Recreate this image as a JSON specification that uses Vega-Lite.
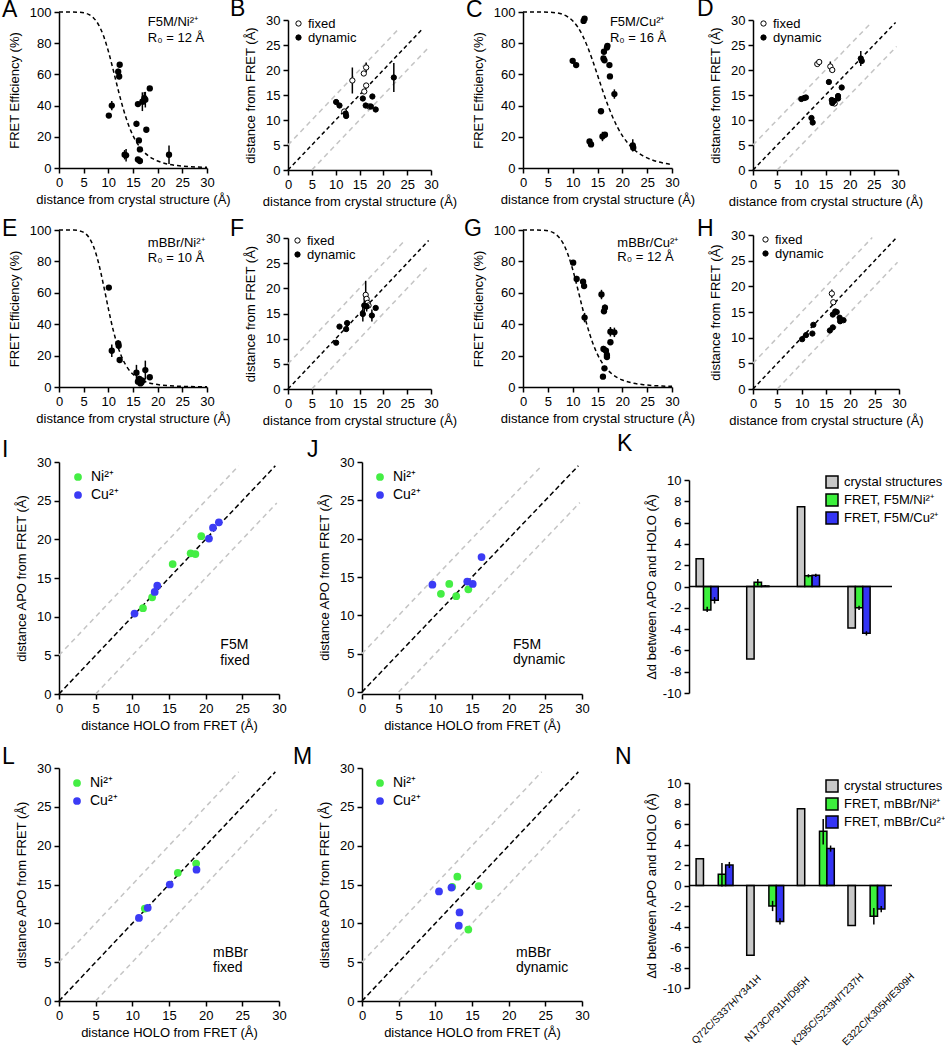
{
"$schema": "https://vega.github.io/schema/vega-lite/v6.json",
"background": "white",
"padding": {"left": 2, "top": -2, "right": 0, "bottom": 0},
"config": {
 "font": "Liberation Sans",
 "view": {"stroke": null},
 "locale": {"number": {"decimal": ".", "thousands": ",", "grouping": [3], "currency": ["$", ""], "minus": "-"}},
 "axis": {"grid": false, "domainColor": "black", "domainWidth": 1.5, "tickColor": "black", "tickWidth": 1.5, "tickSize": 5, "labelFontSize": 13, "labelColor": "black", "labelFont": "Liberation Sans", "titleFont": "Liberation Sans", "titleFontSize": 13, "titleFontWeight": "normal", "titleColor": "black", "labelPadding": 3, "titlePadding": 4, "labelFlush": false, "labelOverlap": false},
 "axisY": {"titlePadding": 8},
 "legend": {"labelFont": "Liberation Sans", "labelColor": "black"}
},
"datasets": {
 "curve12": [{"cx":0,"cy":100},{"cx":2,"cy":100},{"cx":4,"cy":99.86},{"cx":5,"cy":99.48},{"cx":6,"cy":98.46},{"cx":7,"cy":96.21},{"cx":8,"cy":91.93},{"cx":9,"cy":84.89},{"cx":10,"cy":74.92},{"cx":11,"cy":62.76},{"cx":12,"cy":50},{"cx":13,"cy":38.22},{"cx":14,"cy":28.4},{"cx":15,"cy":20.77},{"cx":16,"cy":15.11},{"cx":17,"cy":11.01},{"cx":18,"cy":8.07},{"cx":19,"cy":5.97},{"cx":20,"cy":4.46},{"cx":22,"cy":2.57},{"cx":24,"cy":1.54},{"cx":26,"cy":0.96},{"cx":28,"cy":0.62},{"cx":30,"cy":0.41}],
 "curve16": [{"cx":0,"cy":100},{"cx":4,"cy":99.98},{"cx":6,"cy":99.72},{"cx":8,"cy":98.46},{"cx":9,"cy":96.93},{"cx":10,"cy":94.38},{"cx":11,"cy":90.45},{"cx":12,"cy":84.89},{"cx":13,"cy":77.66},{"cx":14,"cy":69.02},{"cx":15,"cy":59.56},{"cx":16,"cy":50},{"cx":17,"cy":41},{"cx":18,"cy":33.03},{"cx":19,"cy":26.29},{"cx":20,"cy":20.77},{"cx":21,"cy":16.36},{"cx":22,"cy":12.89},{"cx":23,"cy":10.18},{"cx":24,"cy":8.07},{"cx":26,"cy":5.15},{"cx":28,"cy":3.36},{"cx":30,"cy":2.25}],
 "curve10": [{"cx":0,"cy":100},{"cx":3,"cy":99.93},{"cx":4,"cy":99.59},{"cx":5,"cy":98.46},{"cx":6,"cy":95.54},{"cx":7,"cy":89.47},{"cx":8,"cy":79.23},{"cx":9,"cy":65.3},{"cx":10,"cy":50},{"cx":11,"cy":36.08},{"cx":12,"cy":25.09},{"cx":13,"cy":17.16},{"cx":14,"cy":11.72},{"cx":15,"cy":8.07},{"cx":16,"cy":5.63},{"cx":17,"cy":3.98},{"cx":18,"cy":2.86},{"cx":20,"cy":1.54},{"cx":22,"cy":0.87},{"cx":25,"cy":0.41},{"cx":30,"cy":0.14}],
 "effA": [{"cx":10.1,"cy":33.6,"err":1},{"cx":10.7,"cy":40,"err":3},{"cx":12.0,"cy":61.7,"err":2},{"cx":12.2,"cy":58.7,"err":2},{"cx":12.3,"cy":66.2,"err":1.5},{"cx":13.3,"cy":8.5,"err":3},{"cx":13.6,"cy":8.1,"err":4},{"cx":15.7,"cy":28.3,"err":2},{"cx":16.0,"cy":41,"err":1.5},{"cx":16.2,"cy":17.7,"err":1.5},{"cx":16.4,"cy":11.9,"err":1.5},{"cx":16.0,"cy":5.5,"err":1},{"cx":16.4,"cy":4.5,"err":1},{"cx":16.9,"cy":42.5,"err":6},{"cx":17.3,"cy":44.7,"err":4},{"cx":17.5,"cy":43.8,"err":5},{"cx":17.7,"cy":24.5,"err":1},{"cx":18.4,"cy":51,"err":1},{"cx":22.3,"cy":8.5,"err":6}],
 "effC": [{"cx":10.0,"cy":68.7,"err":1},{"cx":10.7,"cy":66,"err":1},{"cx":12.2,"cy":94.3,"err":1.5},{"cx":12.4,"cy":95.7,"err":1},{"cx":13.4,"cy":17,"err":1.5},{"cx":13.7,"cy":15.1,"err":1.5},{"cx":15.7,"cy":36.4,"err":1},{"cx":16.0,"cy":20.2,"err":3},{"cx":16.5,"cy":21.3,"err":1.5},{"cx":16.2,"cy":70.2,"err":1},{"cx":16.4,"cy":69,"err":1},{"cx":16.3,"cy":74.5,"err":1.5},{"cx":16.9,"cy":77.2,"err":1.5},{"cx":17.0,"cy":78.3,"err":1},{"cx":17.4,"cy":66,"err":1},{"cx":17.5,"cy":58.7,"err":1},{"cx":18.4,"cy":47.4,"err":3},{"cx":22.1,"cy":14.5,"err":4},{"cx":22.2,"cy":13,"err":2}],
 "effE": [{"cx":10.1,"cy":63.3,"err":1},{"cx":10.7,"cy":23.1,"err":4},{"cx":12.0,"cy":27.8,"err":2},{"cx":12.1,"cy":26.3,"err":2},{"cx":12.3,"cy":17.2,"err":1},{"cx":15.7,"cy":9.1,"err":5},{"cx":16.0,"cy":3.4,"err":1},{"cx":16.3,"cy":5.1,"err":2},{"cx":16.5,"cy":2.3,"err":1},{"cx":16.9,"cy":4.0,"err":2},{"cx":16.7,"cy":2.9,"err":1},{"cx":17.5,"cy":10.8,"err":6},{"cx":18.4,"cy":6.2,"err":1}],
 "effG": [{"cx":10.1,"cy":79.2,"err":1},{"cx":10.8,"cy":68.8,"err":2},{"cx":12.1,"cy":67.1,"err":1},{"cx":12.3,"cy":64.3,"err":1},{"cx":12.4,"cy":44.2,"err":3},{"cx":15.8,"cy":58.9,"err":3},{"cx":16.3,"cy":48.2,"err":1},{"cx":16.5,"cy":50.5,"err":2},{"cx":16.1,"cy":6.6,"err":1},{"cx":16.4,"cy":11.9,"err":1},{"cx":16.2,"cy":24.2,"err":2},{"cx":16.7,"cy":23.1,"err":2},{"cx":16.9,"cy":20.4,"err":2},{"cx":16.9,"cy":19.1,"err":1},{"cx":17.6,"cy":28.5,"err":1},{"cx":17.6,"cy":35.2,"err":3},{"cx":18.4,"cy":34.8,"err":3}],
 "distB": [{"cx":13.5,"cy":17.9,"err":2.6,"type":"fixed"},{"cx":15.9,"cy":19.3,"err":0.5,"type":"fixed"},{"cx":16.4,"cy":20.5,"err":1,"type":"fixed"},{"cx":16.0,"cy":15.7,"err":0.4,"type":"fixed"},{"cx":16.4,"cy":16.9,"err":0.4,"type":"fixed"},{"cx":17.0,"cy":12.7,"err":0.3,"type":"fixed"},{"cx":11.8,"cy":11.7,"err":0.3,"type":"fixed"},{"cx":10.1,"cy":13.6,"err":0.2,"type":"dynamic"},{"cx":10.8,"cy":12.9,"err":0.2,"type":"dynamic"},{"cx":12.1,"cy":11.3,"err":0.3,"type":"dynamic"},{"cx":12.2,"cy":10.8,"err":0.3,"type":"dynamic"},{"cx":15.7,"cy":14.3,"err":0.2,"type":"dynamic"},{"cx":16.3,"cy":12.9,"err":0.2,"type":"dynamic"},{"cx":17.7,"cy":14.7,"err":0.2,"type":"dynamic"},{"cx":17.4,"cy":12.7,"err":0.2,"type":"dynamic"},{"cx":18.4,"cy":12.1,"err":0.2,"type":"dynamic"},{"cx":22.2,"cy":18.5,"err":2.9,"type":"dynamic"}],
 "distD": [{"cx":13.3,"cy":21.2,"err":0.4,"type":"fixed"},{"cx":13.7,"cy":21.6,"err":0.4,"type":"fixed"},{"cx":16.0,"cy":20.7,"err":1,"type":"fixed"},{"cx":16.4,"cy":20.0,"err":0.4,"type":"fixed"},{"cx":16.9,"cy":13.3,"err":0.3,"type":"fixed"},{"cx":10.0,"cy":14.2,"err":0.2,"type":"dynamic"},{"cx":10.6,"cy":14.4,"err":0.2,"type":"dynamic"},{"cx":10.95,"cy":14.5,"err":0.2,"type":"dynamic"},{"cx":12.1,"cy":10.4,"err":0.3,"type":"dynamic"},{"cx":12.35,"cy":9.5,"err":0.3,"type":"dynamic"},{"cx":15.7,"cy":17.6,"err":0.2,"type":"dynamic"},{"cx":16.3,"cy":14.0,"err":0.3,"type":"dynamic"},{"cx":16.4,"cy":13.4,"err":0.3,"type":"dynamic"},{"cx":16.75,"cy":13.8,"err":0.3,"type":"dynamic"},{"cx":17.6,"cy":14.8,"err":0.4,"type":"dynamic"},{"cx":17.6,"cy":14.3,"err":0.3,"type":"dynamic"},{"cx":18.35,"cy":16.5,"err":0.3,"type":"dynamic"},{"cx":22.3,"cy":22.3,"err":1.5,"type":"dynamic"},{"cx":22.5,"cy":21.8,"err":0.5,"type":"dynamic"}],
 "distF": [{"cx":16.3,"cy":18.7,"err":2.8,"type":"fixed"},{"cx":16.5,"cy":17.9,"err":0.5,"type":"fixed"},{"cx":16.7,"cy":17.1,"err":0.5,"type":"fixed"},{"cx":16.9,"cy":16.6,"err":0.5,"type":"fixed"},{"cx":10.1,"cy":9.2,"err":0.2,"type":"dynamic"},{"cx":10.8,"cy":12.4,"err":0.3,"type":"dynamic"},{"cx":12.2,"cy":11.9,"err":0.3,"type":"dynamic"},{"cx":12.4,"cy":13.1,"err":0.3,"type":"dynamic"},{"cx":15.7,"cy":14.9,"err":1.5,"type":"dynamic"},{"cx":16.0,"cy":16.6,"err":1.8,"type":"dynamic"},{"cx":16.5,"cy":16.4,"err":1,"type":"dynamic"},{"cx":17.6,"cy":14.6,"err":1.2,"type":"dynamic"},{"cx":18.4,"cy":16.1,"err":0.3,"type":"dynamic"}],
 "distH": [{"cx":16.2,"cy":18.6,"err":0.8,"type":"fixed"},{"cx":16.5,"cy":16.9,"err":0.3,"type":"fixed"},{"cx":10.1,"cy":9.7,"err":0.2,"type":"dynamic"},{"cx":10.9,"cy":10.5,"err":0.2,"type":"dynamic"},{"cx":12.2,"cy":10.8,"err":0.3,"type":"dynamic"},{"cx":12.4,"cy":12.5,"err":0.3,"type":"dynamic"},{"cx":15.8,"cy":11.4,"err":0.3,"type":"dynamic"},{"cx":16.4,"cy":12.0,"err":0.3,"type":"dynamic"},{"cx":16.4,"cy":14.5,"err":0.3,"type":"dynamic"},{"cx":16.9,"cy":15.1,"err":0.3,"type":"dynamic"},{"cx":17.2,"cy":15.0,"err":0.3,"type":"dynamic"},{"cx":17.8,"cy":13.9,"err":0.3,"type":"dynamic"},{"cx":17.9,"cy":13.2,"err":0.3,"type":"dynamic"},{"cx":18.6,"cy":13.4,"err":0.3,"type":"dynamic"}],
 "diagB": [{"cx":0,"cy":0},{"cx":28.3,"cy":28.3}],
 "greyB": [{"g":"u","cx":0,"cy":5},{"g":"u","cx":23.4,"cy":28.4},{"g":"l","cx":5,"cy":0},{"g":"l","cx":29.2,"cy":24.2}],
 "diag30": [{"cx":0,"cy":0},{"cx":29.5,"cy":29.5}],
 "grey30": [{"g":"u","cx":0,"cy":5},{"g":"u","cx":24.5,"cy":29.5},{"g":"l","cx":5,"cy":0},{"g":"l","cx":29.7,"cy":24.7}],
 "ptsI": [{"cx":11.45,"cy":11.1,"ion":"Ni²⁺"},{"cx":12.7,"cy":12.5,"ion":"Ni²⁺"},{"cx":15.5,"cy":16.8,"ion":"Ni²⁺"},{"cx":17.95,"cy":18.2,"ion":"Ni²⁺"},{"cx":18.6,"cy":18.1,"ion":"Ni²⁺"},{"cx":19.4,"cy":20.4,"ion":"Ni²⁺"},{"cx":10.3,"cy":10.4,"ion":"Cu²⁺"},{"cx":13.05,"cy":13.2,"ion":"Cu²⁺"},{"cx":13.4,"cy":14.0,"ion":"Cu²⁺"},{"cx":20.45,"cy":20.1,"ion":"Cu²⁺"},{"cx":21.0,"cy":21.5,"ion":"Cu²⁺"},{"cx":21.8,"cy":22.2,"ion":"Cu²⁺"}],
 "ptsJ": [{"cx":10.76,"cy":12.8,"ion":"Ni²⁺"},{"cx":11.9,"cy":14.1,"ion":"Ni²⁺"},{"cx":12.85,"cy":12.5,"ion":"Ni²⁺"},{"cx":14.5,"cy":13.4,"ion":"Ni²⁺"},{"cx":9.6,"cy":14.0,"ion":"Cu²⁺"},{"cx":14.35,"cy":14.4,"ion":"Cu²⁺"},{"cx":15.1,"cy":14.1,"ion":"Cu²⁺"},{"cx":16.3,"cy":17.6,"ion":"Cu²⁺"}],
 "ptsL": [{"cx":11.7,"cy":11.9,"ion":"Ni²⁺"},{"cx":16.2,"cy":16.5,"ion":"Ni²⁺"},{"cx":18.7,"cy":17.7,"ion":"Ni²⁺"},{"cx":10.9,"cy":10.7,"ion":"Cu²⁺"},{"cx":12.1,"cy":12.0,"ion":"Cu²⁺"},{"cx":15.1,"cy":15.0,"ion":"Cu²⁺"},{"cx":18.75,"cy":16.9,"ion":"Cu²⁺"}],
 "ptsM": [{"cx":12.3,"cy":14.7,"ion":"Ni²⁺"},{"cx":13.0,"cy":16.0,"ion":"Ni²⁺"},{"cx":14.5,"cy":9.2,"ion":"Ni²⁺"},{"cx":15.9,"cy":14.8,"ion":"Ni²⁺"},{"cx":10.5,"cy":14.1,"ion":"Cu²⁺"},{"cx":12.2,"cy":14.6,"ion":"Cu²⁺"},{"cx":13.3,"cy":11.4,"ion":"Cu²⁺"},{"cx":13.2,"cy":9.7,"ion":"Cu²⁺"}],
 "barK": [{"site":"Q72C/S337H/Y341H","s":"crystal structures","v":2.6},{"site":"Q72C/S337H/Y341H","s":"FRET, F5M/Ni²⁺","v":-2.2,"lo":-2.4,"hi":-1.9},{"site":"Q72C/S337H/Y341H","s":"FRET, F5M/Cu²⁺","v":-1.3,"lo":-1.6,"hi":-1.0},{"site":"N173C/P91H/D95H","s":"crystal structures","v":-6.8},{"site":"N173C/P91H/D95H","s":"FRET, F5M/Ni²⁺","v":0.4,"lo":0.1,"hi":0.7},{"site":"N173C/P91H/D95H","s":"FRET, F5M/Cu²⁺","v":0.05,"lo":-0.05,"hi":0.15},{"site":"K295C/S233H/T237H","s":"crystal structures","v":7.5},{"site":"K295C/S233H/T237H","s":"FRET, F5M/Ni²⁺","v":1.0,"lo":0.85,"hi":1.15},{"site":"K295C/S233H/T237H","s":"FRET, F5M/Cu²⁺","v":1.05,"lo":0.9,"hi":1.2},{"site":"E322C/K305H/E309H","s":"crystal structures","v":-3.9},{"site":"E322C/K305H/E309H","s":"FRET, F5M/Ni²⁺","v":-2.0,"lo":-2.2,"hi":-1.8},{"site":"E322C/K305H/E309H","s":"FRET, F5M/Cu²⁺","v":-4.4,"lo":-4.6,"hi":-4.2}],
 "barN": [{"site":"Q72C/S337H/Y341H","s":"crystal structures","v":2.6},{"site":"Q72C/S337H/Y341H","s":"FRET, mBBr/Ni²⁺","v":1.1,"lo":-0.1,"hi":2.2},{"site":"Q72C/S337H/Y341H","s":"FRET, mBBr/Cu²⁺","v":2.0,"lo":1.7,"hi":2.3},{"site":"N173C/P91H/D95H","s":"crystal structures","v":-6.8},{"site":"N173C/P91H/D95H","s":"FRET, mBBr/Ni²⁺","v":-2.0,"lo":-2.5,"hi":-1.5},{"site":"N173C/P91H/D95H","s":"FRET, mBBr/Cu²⁺","v":-3.5,"lo":-3.8,"hi":-3.2},{"site":"K295C/S233H/T237H","s":"crystal structures","v":7.5},{"site":"K295C/S233H/T237H","s":"FRET, mBBr/Ni²⁺","v":5.3,"lo":4.0,"hi":6.5},{"site":"K295C/S233H/T237H","s":"FRET, mBBr/Cu²⁺","v":3.6,"lo":3.3,"hi":3.9},{"site":"E322C/K305H/E309H","s":"crystal structures","v":-3.9},{"site":"E322C/K305H/E309H","s":"FRET, mBBr/Ni²⁺","v":-3.0,"lo":-3.8,"hi":-2.2},{"site":"E322C/K305H/E309H","s":"FRET, mBBr/Cu²⁺","v":-2.3,"lo":-2.6,"hi":-2.0}]
},
"spacing": 6,
"resolve": {"scale": {"color": "independent", "fill": "independent"}, "legend": {"color": "independent", "fill": "independent"}},
"vconcat": [
{
 "spacing": 10,
 "resolve": {"scale": {"color": "independent", "fill": "independent"}, "legend": {"color": "independent", "fill": "independent"}},
 "vconcat": [
 {
  "bounds": "flush", "spacing": 0,
  "resolve": {"scale": {"color": "independent", "fill": "independent"}, "legend": {"color": "independent", "fill": "independent"}},
  "hconcat": [
   {
    "width": 229, "height": 156,
    "layer": [
     {"encoding": {"x": {"field": "cx", "type": "quantitative", "scale": {"domain": [0, 30], "nice": false, "range": [0, 148]}, "axis": {"values": [0,5,10,15,20,25,30], "title": "distance from crystal structure (Å)", "labelOverlap": false}}, "y": {"field": "cy", "type": "quantitative", "scale": {"domain": [0, 100], "nice": false}, "axis": {"values": [0,20,40,60,80,100], "title": "FRET Efficiency (%)", "labelOverlap": false}}},
      "layer": [
       {"data": {"name": "curve12"}, "mark": {"type": "line", "color": "black", "strokeWidth": 1.5, "strokeDash": [4, 3], "interpolate": "monotone"}},
       {"data": {"name": "effA"}, "mark": {"type": "errorbar", "color": "black", "rule": {"strokeWidth": 1.5}}, "encoding": {"yError": {"field": "err"}}},
       {"data": {"name": "effA"}, "mark": {"type": "point", "filled": true, "color": "black", "size": 40, "opacity": 1}}
      ]},
     {"data": {"values": [{}]}, "mark": {"type": "text", "align": "left", "baseline": "middle", "fontSize": 13, "color": "black"}, "encoding": {"x": {"datum": 18, "axis": {"values": [0,5,10,15,20,25,30], "title": "distance from crystal structure (Å)", "labelOverlap": false}}, "y": {"datum": 93.6, "axis": {"values": [0,20,40,60,80,100], "title": "FRET Efficiency (%)", "labelOverlap": false}}, "text": {"value": "F5M/Ni²⁺"}}},
     {"data": {"values": [{}]}, "mark": {"type": "text", "align": "left", "baseline": "middle", "fontSize": 13, "color": "black"}, "encoding": {"x": {"datum": 18, "axis": {"values": [0,5,10,15,20,25,30], "title": "distance from crystal structure (Å)", "labelOverlap": false}}, "y": {"datum": 83.3, "axis": {"values": [0,20,40,60,80,100], "title": "FRET Efficiency (%)", "labelOverlap": false}}, "text": {"value": "R₀ = 12 Å"}}},
     {"data": {"values": [{}]}, "mark": {"type": "text", "align": "left", "baseline": "alphabetic", "fontSize": 23, "color": "black", "dx": -57, "dy": 5}, "encoding": {"x": {"datum": 0, "axis": {"values": [0,5,10,15,20,25,30], "title": "distance from crystal structure (Å)", "labelOverlap": false}}, "y": {"datum": 100, "axis": {"values": [0,20,40,60,80,100], "title": "FRET Efficiency (%)", "labelOverlap": false}}, "text": {"value": "A"}}}
    ]
   },
   {
    "width": 235, "height": 158,
    "layer": [
     {"encoding": {"x": {"field": "cx", "type": "quantitative", "scale": {"domain": [0, 30], "nice": false, "range": [0, 143]}, "axis": {"values": [0,5,10,15,20,25,30], "title": "distance from crystal structure (Å)", "labelOverlap": false}}, "y": {"field": "cy", "type": "quantitative", "scale": {"domain": [0, 30], "nice": false, "range": [158, 8]}, "axis": {"values": [0,5,10,15,20,25,30], "title": "distance from FRET (Å)", "labelOverlap": false}}},
      "layer": [
       {"data": {"name": "greyB"}, "mark": {"type": "line", "color": "#c4c4c4", "strokeWidth": 1.5, "strokeDash": [5, 4]}, "encoding": {"detail": {"field": "g"}}},
       {"data": {"name": "diagB"}, "mark": {"type": "line", "color": "black", "strokeWidth": 1.5, "strokeDash": [4, 3]}},
       {"data": {"name": "distB"}, "mark": {"type": "errorbar", "color": "black", "rule": {"strokeWidth": 1.5}}, "encoding": {"yError": {"field": "err"}}},
       {"data": {"name": "distB"}, "mark": {"type": "point", "filled": true, "stroke": "black", "strokeWidth": 1, "size": 28, "opacity": 1, "shape": "circle"}, "encoding": {"fill": {"field": "type", "type": "nominal", "scale": {"domain": ["fixed", "dynamic"], "range": ["white", "black"]}, "legend": {"title": null, "orient": "none", "legendX": 4, "legendY": 5, "symbolStrokeColor": "black", "symbolStrokeWidth": 1, "symbolSize": 28, "symbolType": "circle", "labelFontSize": 13, "rowPadding": -3, "labelOffset": 3, "padding": 0}}}}
      ]},
     {"data": {"values": [{}]}, "mark": {"type": "text", "align": "left", "baseline": "alphabetic", "fontSize": 23, "color": "black", "dx": -58, "dy": -4}, "encoding": {"x": {"datum": 0, "axis": {"values": [0,5,10,15,20,25,30], "title": "distance from crystal structure (Å)", "labelOverlap": false}}, "y": {"datum": 30, "axis": {"values": [0,5,10,15,20,25,30], "title": "distance from FRET (Å)", "labelOverlap": false}}, "text": {"value": "B"}}}
    ]
   },
   {
    "width": 230, "height": 156,
    "layer": [
     {"encoding": {"x": {"field": "cx", "type": "quantitative", "scale": {"domain": [0, 30], "nice": false, "range": [0, 149]}, "axis": {"values": [0,5,10,15,20,25,30], "title": "distance from crystal structure (Å)", "labelOverlap": false}}, "y": {"field": "cy", "type": "quantitative", "scale": {"domain": [0, 100], "nice": false}, "axis": {"values": [0,20,40,60,80,100], "title": "FRET Efficiency (%)", "labelOverlap": false}}},
      "layer": [
       {"data": {"name": "curve16"}, "mark": {"type": "line", "color": "black", "strokeWidth": 1.5, "strokeDash": [4, 3], "interpolate": "monotone"}},
       {"data": {"name": "effC"}, "mark": {"type": "errorbar", "color": "black", "rule": {"strokeWidth": 1.5}}, "encoding": {"yError": {"field": "err"}}},
       {"data": {"name": "effC"}, "mark": {"type": "point", "filled": true, "color": "black", "size": 40, "opacity": 1}}
      ]},
     {"data": {"values": [{}]}, "mark": {"type": "text", "align": "left", "baseline": "middle", "fontSize": 13, "color": "black"}, "encoding": {"x": {"datum": 17.5, "axis": {"values": [0,5,10,15,20,25,30], "title": "distance from crystal structure (Å)", "labelOverlap": false}}, "y": {"datum": 93.6, "axis": {"values": [0,20,40,60,80,100], "title": "FRET Efficiency (%)", "labelOverlap": false}}, "text": {"value": "F5M/Cu²⁺"}}},
     {"data": {"values": [{}]}, "mark": {"type": "text", "align": "left", "baseline": "middle", "fontSize": 13, "color": "black"}, "encoding": {"x": {"datum": 17.5, "axis": {"values": [0,5,10,15,20,25,30], "title": "distance from crystal structure (Å)", "labelOverlap": false}}, "y": {"datum": 83.3, "axis": {"values": [0,20,40,60,80,100], "title": "FRET Efficiency (%)", "labelOverlap": false}}, "text": {"value": "R₀ = 16 Å"}}},
     {"data": {"values": [{}]}, "mark": {"type": "text", "align": "left", "baseline": "alphabetic", "fontSize": 23, "color": "black", "dx": -57, "dy": 5}, "encoding": {"x": {"datum": 0, "axis": {"values": [0,5,10,15,20,25,30], "title": "distance from crystal structure (Å)", "labelOverlap": false}}, "y": {"datum": 100, "axis": {"values": [0,20,40,60,80,100], "title": "FRET Efficiency (%)", "labelOverlap": false}}, "text": {"value": "C"}}}
    ]
   },
   {
    "width": 145, "height": 158,
    "layer": [
     {"encoding": {"x": {"field": "cx", "type": "quantitative", "scale": {"domain": [0, 30], "nice": false}, "axis": {"values": [0,5,10,15,20,25,30], "title": "distance from crystal structure (Å)", "labelOverlap": false}}, "y": {"field": "cy", "type": "quantitative", "scale": {"domain": [0, 30], "nice": false, "range": [158, 8]}, "axis": {"values": [0,5,10,15,20,25,30], "title": "distance from FRET (Å)", "labelOverlap": false}}},
      "layer": [
       {"data": {"name": "grey30"}, "mark": {"type": "line", "color": "#c4c4c4", "strokeWidth": 1.5, "strokeDash": [5, 4]}, "encoding": {"detail": {"field": "g"}}},
       {"data": {"name": "diag30"}, "mark": {"type": "line", "color": "black", "strokeWidth": 1.5, "strokeDash": [4, 3]}},
       {"data": {"name": "distD"}, "mark": {"type": "errorbar", "color": "black", "rule": {"strokeWidth": 1.5}}, "encoding": {"yError": {"field": "err"}}},
       {"data": {"name": "distD"}, "mark": {"type": "point", "filled": true, "stroke": "black", "strokeWidth": 1, "size": 28, "opacity": 1, "shape": "circle"}, "encoding": {"fill": {"field": "type", "type": "nominal", "scale": {"domain": ["fixed", "dynamic"], "range": ["white", "black"]}, "legend": {"title": null, "orient": "none", "legendX": 4, "legendY": 5, "symbolStrokeColor": "black", "symbolStrokeWidth": 1, "symbolSize": 28, "symbolType": "circle", "labelFontSize": 13, "rowPadding": -3, "labelOffset": 3, "padding": 0}}}}
      ]},
     {"data": {"values": [{}]}, "mark": {"type": "text", "align": "left", "baseline": "alphabetic", "fontSize": 23, "color": "black", "dx": -56, "dy": -4}, "encoding": {"x": {"datum": 0, "axis": {"values": [0,5,10,15,20,25,30], "title": "distance from crystal structure (Å)", "labelOverlap": false}}, "y": {"datum": 30, "axis": {"values": [0,5,10,15,20,25,30], "title": "distance from FRET (Å)", "labelOverlap": false}}, "text": {"value": "D"}}}
    ]
   }
  ]
 },
 {
  "bounds": "flush", "spacing": 0,
  "resolve": {"scale": {"color": "independent", "fill": "independent"}, "legend": {"color": "independent", "fill": "independent"}},
  "hconcat": [
   {
    "width": 229, "height": 157,
    "layer": [
     {"encoding": {"x": {"field": "cx", "type": "quantitative", "scale": {"domain": [0, 30], "nice": false, "range": [0, 148]}, "axis": {"values": [0,5,10,15,20,25,30], "title": "distance from crystal structure (Å)", "labelOverlap": false}}, "y": {"field": "cy", "type": "quantitative", "scale": {"domain": [0, 100], "nice": false}, "axis": {"values": [0,20,40,60,80,100], "title": "FRET Efficiency (%)", "labelOverlap": false}}},
      "layer": [
       {"data": {"name": "curve10"}, "mark": {"type": "line", "color": "black", "strokeWidth": 1.5, "strokeDash": [4, 3], "interpolate": "monotone"}},
       {"data": {"name": "effE"}, "mark": {"type": "errorbar", "color": "black", "rule": {"strokeWidth": 1.5}}, "encoding": {"yError": {"field": "err"}}},
       {"data": {"name": "effE"}, "mark": {"type": "point", "filled": true, "color": "black", "size": 40, "opacity": 1}}
      ]},
     {"data": {"values": [{}]}, "mark": {"type": "text", "align": "left", "baseline": "middle", "fontSize": 13, "color": "black"}, "encoding": {"x": {"datum": 18, "axis": {"values": [0,5,10,15,20,25,30], "title": "distance from crystal structure (Å)", "labelOverlap": false}}, "y": {"datum": 91.7, "axis": {"values": [0,20,40,60,80,100], "title": "FRET Efficiency (%)", "labelOverlap": false}}, "text": {"value": "mBBr/Ni²⁺"}}},
     {"data": {"values": [{}]}, "mark": {"type": "text", "align": "left", "baseline": "middle", "fontSize": 13, "color": "black"}, "encoding": {"x": {"datum": 18, "axis": {"values": [0,5,10,15,20,25,30], "title": "distance from crystal structure (Å)", "labelOverlap": false}}, "y": {"datum": 82, "axis": {"values": [0,20,40,60,80,100], "title": "FRET Efficiency (%)", "labelOverlap": false}}, "text": {"value": "R₀ = 10 Å"}}},
     {"data": {"values": [{}]}, "mark": {"type": "text", "align": "left", "baseline": "alphabetic", "fontSize": 23, "color": "black", "dx": -57, "dy": 6}, "encoding": {"x": {"datum": 0, "axis": {"values": [0,5,10,15,20,25,30], "title": "distance from crystal structure (Å)", "labelOverlap": false}}, "y": {"datum": 100, "axis": {"values": [0,20,40,60,80,100], "title": "FRET Efficiency (%)", "labelOverlap": false}}, "text": {"value": "E"}}}
    ]
   },
   {
    "width": 235, "height": 159,
    "layer": [
     {"encoding": {"x": {"field": "cx", "type": "quantitative", "scale": {"domain": [0, 30], "nice": false, "range": [0, 143]}, "axis": {"values": [0,5,10,15,20,25,30], "title": "distance from crystal structure (Å)", "labelOverlap": false}}, "y": {"field": "cy", "type": "quantitative", "scale": {"domain": [0, 30], "nice": false, "range": [159, 8]}, "axis": {"values": [0,5,10,15,20,25,30], "title": "distance from FRET (Å)", "labelOverlap": false}}},
      "layer": [
       {"data": {"name": "grey30"}, "mark": {"type": "line", "color": "#c4c4c4", "strokeWidth": 1.5, "strokeDash": [5, 4]}, "encoding": {"detail": {"field": "g"}}},
       {"data": {"name": "diag30"}, "mark": {"type": "line", "color": "black", "strokeWidth": 1.5, "strokeDash": [4, 3]}},
       {"data": {"name": "distF"}, "mark": {"type": "errorbar", "color": "black", "rule": {"strokeWidth": 1.5}}, "encoding": {"yError": {"field": "err"}}},
       {"data": {"name": "distF"}, "mark": {"type": "point", "filled": true, "stroke": "black", "strokeWidth": 1, "size": 28, "opacity": 1, "shape": "circle"}, "encoding": {"fill": {"field": "type", "type": "nominal", "scale": {"domain": ["fixed", "dynamic"], "range": ["white", "black"]}, "legend": {"title": null, "orient": "none", "legendX": 3, "legendY": 4, "symbolStrokeColor": "black", "symbolStrokeWidth": 1, "symbolSize": 28, "symbolType": "circle", "labelFontSize": 13, "rowPadding": -3, "labelOffset": 3, "padding": 0}}}}
      ]},
     {"data": {"values": [{}]}, "mark": {"type": "text", "align": "left", "baseline": "alphabetic", "fontSize": 23, "color": "black", "dx": -58, "dy": -2}, "encoding": {"x": {"datum": 0, "axis": {"values": [0,5,10,15,20,25,30], "title": "distance from crystal structure (Å)", "labelOverlap": false}}, "y": {"datum": 30, "axis": {"values": [0,5,10,15,20,25,30], "title": "distance from FRET (Å)", "labelOverlap": false}}, "text": {"value": "F"}}}
    ]
   },
   {
    "width": 230, "height": 157,
    "layer": [
     {"encoding": {"x": {"field": "cx", "type": "quantitative", "scale": {"domain": [0, 30], "nice": false, "range": [0, 149]}, "axis": {"values": [0,5,10,15,20,25,30], "title": "distance from crystal structure (Å)", "labelOverlap": false}}, "y": {"field": "cy", "type": "quantitative", "scale": {"domain": [0, 100], "nice": false}, "axis": {"values": [0,20,40,60,80,100], "title": "FRET Efficiency (%)", "labelOverlap": false}}},
      "layer": [
       {"data": {"name": "curve12"}, "mark": {"type": "line", "color": "black", "strokeWidth": 1.5, "strokeDash": [4, 3], "interpolate": "monotone"}},
       {"data": {"name": "effG"}, "mark": {"type": "errorbar", "color": "black", "rule": {"strokeWidth": 1.5}}, "encoding": {"yError": {"field": "err"}}},
       {"data": {"name": "effG"}, "mark": {"type": "point", "filled": true, "color": "black", "size": 40, "opacity": 1}}
      ]},
     {"data": {"values": [{}]}, "mark": {"type": "text", "align": "left", "baseline": "middle", "fontSize": 13, "color": "black"}, "encoding": {"x": {"datum": 19, "axis": {"values": [0,5,10,15,20,25,30], "title": "distance from crystal structure (Å)", "labelOverlap": false}}, "y": {"datum": 91.7, "axis": {"values": [0,20,40,60,80,100], "title": "FRET Efficiency (%)", "labelOverlap": false}}, "text": {"value": "mBBr/Cu²⁺"}}},
     {"data": {"values": [{}]}, "mark": {"type": "text", "align": "left", "baseline": "middle", "fontSize": 13, "color": "black"}, "encoding": {"x": {"datum": 19, "axis": {"values": [0,5,10,15,20,25,30], "title": "distance from crystal structure (Å)", "labelOverlap": false}}, "y": {"datum": 83, "axis": {"values": [0,20,40,60,80,100], "title": "FRET Efficiency (%)", "labelOverlap": false}}, "text": {"value": "R₀ = 12 Å"}}},
     {"data": {"values": [{}]}, "mark": {"type": "text", "align": "left", "baseline": "alphabetic", "fontSize": 23, "color": "black", "dx": -59, "dy": 6}, "encoding": {"x": {"datum": 0, "axis": {"values": [0,5,10,15,20,25,30], "title": "distance from crystal structure (Å)", "labelOverlap": false}}, "y": {"datum": 100, "axis": {"values": [0,20,40,60,80,100], "title": "FRET Efficiency (%)", "labelOverlap": false}}, "text": {"value": "G"}}}
    ]
   },
   {
    "width": 146, "height": 159,
    "layer": [
     {"encoding": {"x": {"field": "cx", "type": "quantitative", "scale": {"domain": [0, 30], "nice": false}, "axis": {"values": [0,5,10,15,20,25,30], "title": "distance from crystal structure (Å)", "labelOverlap": false}}, "y": {"field": "cy", "type": "quantitative", "scale": {"domain": [0, 30], "nice": false, "range": [159, 5]}, "axis": {"values": [0,5,10,15,20,25,30], "title": "distance from FRET (Å)", "labelOverlap": false}}},
      "layer": [
       {"data": {"name": "grey30"}, "mark": {"type": "line", "color": "#c4c4c4", "strokeWidth": 1.5, "strokeDash": [5, 4]}, "encoding": {"detail": {"field": "g"}}},
       {"data": {"name": "diag30"}, "mark": {"type": "line", "color": "black", "strokeWidth": 1.5, "strokeDash": [4, 3]}},
       {"data": {"name": "distH"}, "mark": {"type": "errorbar", "color": "black", "rule": {"strokeWidth": 1.5}}, "encoding": {"yError": {"field": "err"}}},
       {"data": {"name": "distH"}, "mark": {"type": "point", "filled": true, "stroke": "black", "strokeWidth": 1, "size": 28, "opacity": 1, "shape": "circle"}, "encoding": {"fill": {"field": "type", "type": "nominal", "scale": {"domain": ["fixed", "dynamic"], "range": ["white", "black"]}, "legend": {"title": null, "orient": "none", "legendX": 6, "legendY": 3, "symbolStrokeColor": "black", "symbolStrokeWidth": 1, "symbolSize": 28, "symbolType": "circle", "labelFontSize": 13, "rowPadding": -3, "labelOffset": 3, "padding": 0}}}}
      ]},
     {"data": {"values": [{}]}, "mark": {"type": "text", "align": "left", "baseline": "alphabetic", "fontSize": 23, "color": "black", "dx": -56, "dy": 1}, "encoding": {"x": {"datum": 0, "axis": {"values": [0,5,10,15,20,25,30], "title": "distance from crystal structure (Å)", "labelOverlap": false}}, "y": {"datum": 30, "axis": {"values": [0,5,10,15,20,25,30], "title": "distance from FRET (Å)", "labelOverlap": false}}, "text": {"value": "H"}}}
    ]
   }
  ]
 }
 ]
},
{
 "spacing": 14,
 "resolve": {"scale": {"color": "independent", "fill": "independent"}, "legend": {"color": "independent", "fill": "independent"}},
 "vconcat": [
 {
  "bounds": "flush", "spacing": 0,
  "resolve": {"scale": {"color": "independent", "fill": "independent"}, "legend": {"color": "independent", "fill": "independent"}},
  "hconcat": [
   {
    "width": 303, "height": 232,
    "layer": [
     {"encoding": {"x": {"field": "cx", "type": "quantitative", "scale": {"domain": [0, 30], "nice": false, "range": [0, 220]}, "axis": {"values": [0,5,10,15,20,25,30], "title": "distance HOLO from FRET (Å)", "labelOverlap": false}}, "y": {"field": "cy", "type": "quantitative", "scale": {"domain": [0, 30], "nice": false}, "axis": {"values": [0,5,10,15,20,25,30], "title": "distance APO from FRET (Å)", "labelOverlap": false}}},
      "layer": [
       {"data": {"name": "grey30"}, "mark": {"type": "line", "color": "#c4c4c4", "strokeWidth": 1.5, "strokeDash": [5, 4]}, "encoding": {"detail": {"field": "g"}}},
       {"data": {"name": "diag30"}, "mark": {"type": "line", "color": "black", "strokeWidth": 1.5, "strokeDash": [5, 3]}},
       {"data": {"name": "ptsI"}, "mark": {"type": "point", "filled": true, "size": 60, "opacity": 1}, "encoding": {"color": {"field": "ion", "type": "nominal", "scale": {"domain": ["Ni²⁺", "Cu²⁺"], "range": ["#44ee44", "#3b3bf5"]}, "legend": {"title": null, "orient": "none", "legendX": 12, "legendY": 8, "symbolSize": 60, "symbolType": "circle", "labelFontSize": 14, "rowPadding": 4, "labelOffset": 6, "padding": 0}}}}
      ]},
     {"data": {"values": [{}]}, "mark": {"type": "text", "align": "left", "baseline": "middle", "fontSize": 14, "color": "black"}, "encoding": {"x": {"datum": 22, "axis": {"values": [0,5,10,15,20,25,30], "title": "distance HOLO from FRET (Å)", "labelOverlap": false}}, "y": {"datum": 6.3, "axis": {"values": [0,5,10,15,20,25,30], "title": "distance APO from FRET (Å)", "labelOverlap": false}}, "text": {"value": "F5M"}}},
     {"data": {"values": [{}]}, "mark": {"type": "text", "align": "left", "baseline": "middle", "fontSize": 14, "color": "black"}, "encoding": {"x": {"datum": 22, "axis": {"values": [0,5,10,15,20,25,30], "title": "distance HOLO from FRET (Å)", "labelOverlap": false}}, "y": {"datum": 4.3, "axis": {"values": [0,5,10,15,20,25,30], "title": "distance APO from FRET (Å)", "labelOverlap": false}}, "text": {"value": "fixed"}}},
     {"data": {"values": [{}]}, "mark": {"type": "text", "align": "left", "baseline": "alphabetic", "fontSize": 23, "color": "black", "dx": -57, "dy": -5}, "encoding": {"x": {"datum": 0, "axis": {"values": [0,5,10,15,20,25,30], "title": "distance HOLO from FRET (Å)", "labelOverlap": false}}, "y": {"datum": 30, "axis": {"values": [0,5,10,15,20,25,30], "title": "distance APO from FRET (Å)", "labelOverlap": false}}, "text": {"value": " I"}}}
    ]
   },
   {
    "width": 327, "height": 232,
    "layer": [
     {"encoding": {"x": {"field": "cx", "type": "quantitative", "scale": {"domain": [0, 30], "nice": false, "range": [0, 220]}, "axis": {"values": [0,5,10,15,20,25,30], "title": "distance HOLO from FRET (Å)", "labelOverlap": false}}, "y": {"field": "cy", "type": "quantitative", "scale": {"domain": [0, 30], "nice": false, "range": [230, 0]}, "axis": {"values": [0,5,10,15,20,25,30], "title": "distance APO from FRET (Å)", "labelOverlap": false}}},
      "layer": [
       {"data": {"name": "grey30"}, "mark": {"type": "line", "color": "#c4c4c4", "strokeWidth": 1.5, "strokeDash": [5, 4]}, "encoding": {"detail": {"field": "g"}}},
       {"data": {"name": "diag30"}, "mark": {"type": "line", "color": "black", "strokeWidth": 1.5, "strokeDash": [5, 3]}},
       {"data": {"name": "ptsJ"}, "mark": {"type": "point", "filled": true, "size": 60, "opacity": 1}, "encoding": {"color": {"field": "ion", "type": "nominal", "scale": {"domain": ["Ni²⁺", "Cu²⁺"], "range": ["#44ee44", "#3b3bf5"]}, "legend": {"title": null, "orient": "none", "legendX": 11, "legendY": 8, "symbolSize": 60, "symbolType": "circle", "labelFontSize": 14, "rowPadding": 4, "labelOffset": 6, "padding": 0}}}}
      ]},
     {"data": {"values": [{}]}, "mark": {"type": "text", "align": "left", "baseline": "middle", "fontSize": 14, "color": "black"}, "encoding": {"x": {"datum": 20.6, "axis": {"values": [0,5,10,15,20,25,30], "title": "distance HOLO from FRET (Å)", "labelOverlap": false}}, "y": {"datum": 6.1, "axis": {"values": [0,5,10,15,20,25,30], "title": "distance APO from FRET (Å)", "labelOverlap": false}}, "text": {"value": "F5M"}}},
     {"data": {"values": [{}]}, "mark": {"type": "text", "align": "left", "baseline": "middle", "fontSize": 14, "color": "black"}, "encoding": {"x": {"datum": 20.6, "axis": {"values": [0,5,10,15,20,25,30], "title": "distance HOLO from FRET (Å)", "labelOverlap": false}}, "y": {"datum": 4.2, "axis": {"values": [0,5,10,15,20,25,30], "title": "distance APO from FRET (Å)", "labelOverlap": false}}, "text": {"value": "dynamic"}}},
     {"data": {"values": [{}]}, "mark": {"type": "text", "align": "left", "baseline": "alphabetic", "fontSize": 23, "color": "black", "dx": -55, "dy": -5}, "encoding": {"x": {"datum": 0, "axis": {"values": [0,5,10,15,20,25,30], "title": "distance HOLO from FRET (Å)", "labelOverlap": false}}, "y": {"datum": 30, "axis": {"values": [0,5,10,15,20,25,30], "title": "distance APO from FRET (Å)", "labelOverlap": false}}, "text": {"value": "J"}}}
    ]
   },
   {
    "width": 203, "height": 231,
    "data": {"name": "barK"},
    "layer": [
     {"mark": {"type": "bar", "stroke": "black", "strokeWidth": 1.5, "opacity": 1}, "encoding": {
       "x": {"field": "site", "type": "nominal", "sort": null, "scale": {"paddingInner": 0.27, "paddingOuter": 0.14}, "axis": null},
       "xOffset": {"field": "s", "type": "nominal", "sort": null, "scale": {"domain": ["crystal structures", "FRET, F5M/Ni²⁺", "FRET, F5M/Cu²⁺"]}},
       "y": {"field": "v", "type": "quantitative", "scale": {"domain": [-10, 10], "nice": false, "range": [231, 18]}, "axis": {"values": [-10,-8,-6,-4,-2,0,2,4,6,8,10], "title": "Δd between APO and HOLO (Å)", "titlePadding": 4, "labelOverlap": false}},
       "color": {"field": "s", "type": "nominal", "scale": {"domain": ["crystal structures", "FRET, F5M/Ni²⁺", "FRET, F5M/Cu²⁺"], "range": ["#c8c8c8", "#3cf03c", "#3434f5"]}, "legend": {"title": null, "orient": "none", "legendX": 136, "legendY": 13, "symbolType": "square", "symbolSize": 144, "symbolStrokeColor": "black", "symbolStrokeWidth": 1.5, "symbolOpacity": 1, "labelFontSize": 13, "rowPadding": 0, "labelOffset": 5, "padding": 0}}
     }},
     {"mark": {"type": "rule", "color": "black", "strokeWidth": 1.5}, "encoding": {"x": {"field": "site", "type": "nominal", "sort": null, "axis": null}, "xOffset": {"field": "s", "type": "nominal", "sort": null}, "y": {"field": "lo", "type": "quantitative", "title": "Δd between APO and HOLO (Å)", "axis": {"values": [-10,-8,-6,-4,-2,0,2,4,6,8,10], "title": "Δd between APO and HOLO (Å)", "titlePadding": 4, "labelOverlap": false}}, "y2": {"field": "hi"}}},
     {"data": {"values": [{}]}, "mark": {"type": "rule", "color": "black", "strokeWidth": 1.5}, "encoding": {"y": {"datum": 0, "axis": {"values": [-10,-8,-6,-4,-2,0,2,4,6,8,10], "title": "Δd between APO and HOLO (Å)", "titlePadding": 4, "labelOverlap": false}}}},
     {"data": {"values": [{}]}, "mark": {"type": "text", "align": "left", "baseline": "alphabetic", "fontSize": 23, "color": "black", "dx": -79, "dy": -29}, "encoding": {"x": {"datum": "Q72C/S337H/Y341H", "type": "nominal", "bandPosition": 0, "axis": null}, "y": {"datum": 10, "axis": {"values": [-10,-8,-6,-4,-2,0,2,4,6,8,10], "title": "Δd between APO and HOLO (Å)", "titlePadding": 4, "labelOverlap": false}}, "text": {"value": "K"}}}
    ]
   }
  ]
 },
 {
  "bounds": "flush", "spacing": 0,
  "resolve": {"scale": {"color": "independent", "fill": "independent"}, "legend": {"color": "independent", "fill": "independent"}},
  "hconcat": [
   {
    "width": 303, "height": 233,
    "layer": [
     {"encoding": {"x": {"field": "cx", "type": "quantitative", "scale": {"domain": [0, 30], "nice": false, "range": [0, 220]}, "axis": {"values": [0,5,10,15,20,25,30], "title": "distance HOLO from FRET (Å)", "labelOverlap": false}}, "y": {"field": "cy", "type": "quantitative", "scale": {"domain": [0, 30], "nice": false}, "axis": {"values": [0,5,10,15,20,25,30], "title": "distance APO from FRET (Å)", "labelOverlap": false}}},
      "layer": [
       {"data": {"name": "grey30"}, "mark": {"type": "line", "color": "#c4c4c4", "strokeWidth": 1.5, "strokeDash": [5, 4]}, "encoding": {"detail": {"field": "g"}}},
       {"data": {"name": "diag30"}, "mark": {"type": "line", "color": "black", "strokeWidth": 1.5, "strokeDash": [5, 3]}},
       {"data": {"name": "ptsL"}, "mark": {"type": "point", "filled": true, "size": 60, "opacity": 1}, "encoding": {"color": {"field": "ion", "type": "nominal", "scale": {"domain": ["Ni²⁺", "Cu²⁺"], "range": ["#44ee44", "#3b3bf5"]}, "legend": {"title": null, "orient": "none", "legendX": 11, "legendY": 8, "symbolSize": 60, "symbolType": "circle", "labelFontSize": 14, "rowPadding": 4, "labelOffset": 6, "padding": 0}}}}
      ]},
     {"data": {"values": [{}]}, "mark": {"type": "text", "align": "left", "baseline": "middle", "fontSize": 14, "color": "black"}, "encoding": {"x": {"datum": 21, "axis": {"values": [0,5,10,15,20,25,30], "title": "distance HOLO from FRET (Å)", "labelOverlap": false}}, "y": {"datum": 6.2, "axis": {"values": [0,5,10,15,20,25,30], "title": "distance APO from FRET (Å)", "labelOverlap": false}}, "text": {"value": "mBBr"}}},
     {"data": {"values": [{}]}, "mark": {"type": "text", "align": "left", "baseline": "middle", "fontSize": 14, "color": "black"}, "encoding": {"x": {"datum": 21, "axis": {"values": [0,5,10,15,20,25,30], "title": "distance HOLO from FRET (Å)", "labelOverlap": false}}, "y": {"datum": 4.2, "axis": {"values": [0,5,10,15,20,25,30], "title": "distance APO from FRET (Å)", "labelOverlap": false}}, "text": {"value": "fixed"}}},
     {"data": {"values": [{}]}, "mark": {"type": "text", "align": "left", "baseline": "alphabetic", "fontSize": 23, "color": "black", "dx": -57, "dy": -4}, "encoding": {"x": {"datum": 0, "axis": {"values": [0,5,10,15,20,25,30], "title": "distance HOLO from FRET (Å)", "labelOverlap": false}}, "y": {"datum": 30, "axis": {"values": [0,5,10,15,20,25,30], "title": "distance APO from FRET (Å)", "labelOverlap": false}}, "text": {"value": " L"}}}
    ]
   },
   {
    "width": 327, "height": 233,
    "layer": [
     {"encoding": {"x": {"field": "cx", "type": "quantitative", "scale": {"domain": [0, 30], "nice": false, "range": [0, 220]}, "axis": {"values": [0,5,10,15,20,25,30], "title": "distance HOLO from FRET (Å)", "labelOverlap": false}}, "y": {"field": "cy", "type": "quantitative", "scale": {"domain": [0, 30], "nice": false}, "axis": {"values": [0,5,10,15,20,25,30], "title": "distance APO from FRET (Å)", "labelOverlap": false}}},
      "layer": [
       {"data": {"name": "grey30"}, "mark": {"type": "line", "color": "#c4c4c4", "strokeWidth": 1.5, "strokeDash": [5, 4]}, "encoding": {"detail": {"field": "g"}}},
       {"data": {"name": "diag30"}, "mark": {"type": "line", "color": "black", "strokeWidth": 1.5, "strokeDash": [5, 3]}},
       {"data": {"name": "ptsM"}, "mark": {"type": "point", "filled": true, "size": 60, "opacity": 1}, "encoding": {"color": {"field": "ion", "type": "nominal", "scale": {"domain": ["Ni²⁺", "Cu²⁺"], "range": ["#44ee44", "#3b3bf5"]}, "legend": {"title": null, "orient": "none", "legendX": 11, "legendY": 8, "symbolSize": 60, "symbolType": "circle", "labelFontSize": 14, "rowPadding": 4, "labelOffset": 6, "padding": 0}}}}
      ]},
     {"data": {"values": [{}]}, "mark": {"type": "text", "align": "left", "baseline": "middle", "fontSize": 14, "color": "black"}, "encoding": {"x": {"datum": 21, "axis": {"values": [0,5,10,15,20,25,30], "title": "distance HOLO from FRET (Å)", "labelOverlap": false}}, "y": {"datum": 6.2, "axis": {"values": [0,5,10,15,20,25,30], "title": "distance APO from FRET (Å)", "labelOverlap": false}}, "text": {"value": "mBBr"}}},
     {"data": {"values": [{}]}, "mark": {"type": "text", "align": "left", "baseline": "middle", "fontSize": 14, "color": "black"}, "encoding": {"x": {"datum": 21, "axis": {"values": [0,5,10,15,20,25,30], "title": "distance HOLO from FRET (Å)", "labelOverlap": false}}, "y": {"datum": 4.2, "axis": {"values": [0,5,10,15,20,25,30], "title": "distance APO from FRET (Å)", "labelOverlap": false}}, "text": {"value": "dynamic"}}},
     {"data": {"values": [{}]}, "mark": {"type": "text", "align": "left", "baseline": "alphabetic", "fontSize": 23, "color": "black", "dx": -69, "dy": -4}, "encoding": {"x": {"datum": 0, "axis": {"values": [0,5,10,15,20,25,30], "title": "distance HOLO from FRET (Å)", "labelOverlap": false}}, "y": {"datum": 30, "axis": {"values": [0,5,10,15,20,25,30], "title": "distance APO from FRET (Å)", "labelOverlap": false}}, "text": {"value": "M"}}}
    ]
   },
   {
    "width": 203, "height": 220,
    "data": {"name": "barN"},
    "layer": [
     {"mark": {"type": "bar", "stroke": "black", "strokeWidth": 1.5, "opacity": 1}, "encoding": {
       "x": {"field": "site", "type": "nominal", "sort": null, "scale": {"paddingInner": 0.27, "paddingOuter": 0.14}, "axis": {"title": null, "domain": false, "ticks": false, "labelAngle": -45, "labelAlign": "center", "labelBaseline": "middle", "labelFontSize": 10, "labelPadding": 21, "labelOffset": 12}},
       "xOffset": {"field": "s", "type": "nominal", "sort": null, "scale": {"domain": ["crystal structures", "FRET, mBBr/Ni²⁺", "FRET, mBBr/Cu²⁺"]}},
       "y": {"field": "v", "type": "quantitative", "scale": {"domain": [-10, 10], "nice": false, "range": [220, 15]}, "axis": {"values": [-10,-8,-6,-4,-2,0,2,4,6,8,10], "title": "Δd between APO and HOLO (Å)", "titlePadding": 4, "labelOverlap": false}},
       "color": {"field": "s", "type": "nominal", "scale": {"domain": ["crystal structures", "FRET, mBBr/Ni²⁺", "FRET, mBBr/Cu²⁺"], "range": ["#c8c8c8", "#3cf03c", "#3434f5"]}, "legend": {"title": null, "orient": "none", "legendX": 136, "legendY": 11, "symbolType": "square", "symbolSize": 144, "symbolStrokeColor": "black", "symbolStrokeWidth": 1.5, "symbolOpacity": 1, "labelFontSize": 13, "rowPadding": 0, "labelOffset": 5, "padding": 0}}
     }},
     {"mark": {"type": "rule", "color": "black", "strokeWidth": 1.5}, "encoding": {"x": {"field": "site", "type": "nominal", "sort": null, "axis": {"title": null, "domain": false, "ticks": false, "labelAngle": -45, "labelAlign": "center", "labelBaseline": "middle", "labelFontSize": 10, "labelPadding": 21, "labelOffset": 12}}, "xOffset": {"field": "s", "type": "nominal", "sort": null}, "y": {"field": "lo", "type": "quantitative", "title": "Δd between APO and HOLO (Å)", "axis": {"values": [-10,-8,-6,-4,-2,0,2,4,6,8,10], "title": "Δd between APO and HOLO (Å)", "titlePadding": 4, "labelOverlap": false}}, "y2": {"field": "hi"}}},
     {"data": {"values": [{}]}, "mark": {"type": "rule", "color": "black", "strokeWidth": 1.5}, "encoding": {"y": {"datum": 0, "axis": {"values": [-10,-8,-6,-4,-2,0,2,4,6,8,10], "title": "Δd between APO and HOLO (Å)", "titlePadding": 4, "labelOverlap": false}}}},
     {"data": {"values": [{}]}, "mark": {"type": "text", "align": "left", "baseline": "alphabetic", "fontSize": 23, "color": "black", "dx": -81, "dy": -19}, "encoding": {"x": {"datum": "Q72C/S337H/Y341H", "type": "nominal", "bandPosition": 0, "axis": {"title": null, "domain": false, "ticks": false, "labelAngle": -45, "labelAlign": "center", "labelBaseline": "middle", "labelFontSize": 10, "labelPadding": 21, "labelOffset": 12}}, "y": {"datum": 10, "axis": {"values": [-10,-8,-6,-4,-2,0,2,4,6,8,10], "title": "Δd between APO and HOLO (Å)", "titlePadding": 4, "labelOverlap": false}}, "text": {"value": "N"}}}
    ]
   }
  ]
 }
 ]
}
]
}
